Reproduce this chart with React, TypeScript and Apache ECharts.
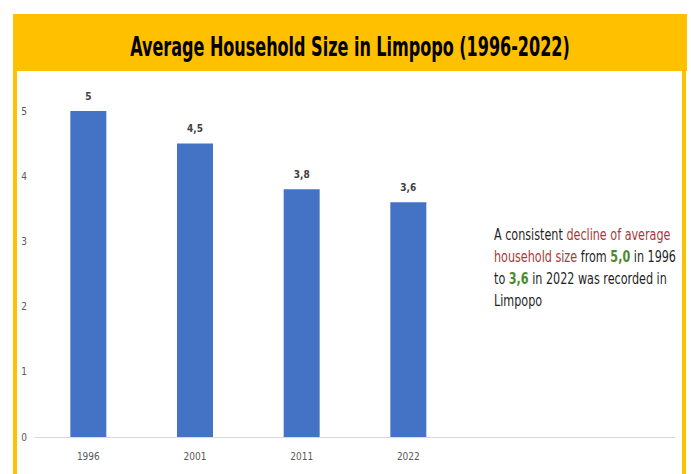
import { useEffect, useRef } from "react";
import * as echarts from "echarts";

const years = ["1996", "2001", "2011", "2022"];
const householdSize = [5, 4.5, 3.8, 3.6];
const emptySlots = ["", ""];
const titleText = "Average Household Size in Limpopo (1996-2022)";
const noteText =
  "A consistent {r|decline of average}\n{r|household size} from {g|5,0} in 1996\nto {g|3,6} in 2022 was recorded in\nLimpopo";

const NARROW = '"DejaVu Sans Condensed", "Liberation Sans Narrow", sans-serif';

export default function App() {
  const ref = useRef<HTMLDivElement>(null);
  useEffect(() => {
    if (!ref.current) return;
    const chart = echarts.init(ref.current, undefined, { renderer: "svg" });
    chart.setOption({
      animation: false,
      backgroundColor: "#ffffff",
      grid: { left: 35, right: 16, top: 111, bottom: 37, containLabel: false },
      xAxis: {
        type: "category",
        data: [...years, ...emptySlots],
        boundaryGap: true,
        axisLine: { show: true, lineStyle: { color: "#d9d9d9", width: 1 } },
        axisTick: { show: false },
        axisLabel: { color: "#595959", fontSize: 10, margin: 14, fontFamily: NARROW },
        splitLine: { show: false },
      },
      yAxis: {
        type: "value",
        min: 0,
        max: 5,
        interval: 1,
        axisLine: { show: false },
        axisTick: { show: false },
        splitLine: { show: false },
        axisLabel: { color: "#595959", fontSize: 10, margin: 8, fontFamily: NARROW },
      },
      series: [
        {
          type: "bar",
          data: householdSize,
          barWidth: 36,
          itemStyle: { color: "#4472C4" },
          label: {
            show: true,
            position: "top",
            distance: 10,
            color: "#404040",
            fontSize: 10,
            fontWeight: "bold",
            fontFamily: NARROW,
            formatter: (p: any) => String(p.value).replace(".", ","),
          },
        },
      ],
      graphic: [
        {
          type: "rect",
          z: 100,
          silent: true,
          shape: { x: 15, y: 16, width: 669, height: 480 },
          style: { fill: "none", stroke: "#FFC000", lineWidth: 4 },
        },
        {
          type: "rect",
          z: 101,
          silent: true,
          shape: { x: 13, y: 14, width: 674, height: 57 },
          style: { fill: "#FFC000" },
        },
        {
          type: "text",
          z: 102,
          x: 350,
          y: 47,
          scaleX: 0.66,
          style: {
            text: titleText,
            fill: "#000000",
            font: `bold 27px ${NARROW}`,
            align: "center",
            verticalAlign: "middle",
          },
        },
        {
          type: "text",
          z: 102,
          x: 494,
          y: 224,
          scaleX: 0.83,
          style: {
            text: noteText,
            fill: "#1f1f1f",
            font: `15px ${NARROW}`,
            lineHeight: 22,
            align: "left",
            verticalAlign: "top",
            rich: {
              r: { fill: "#A63A3A", font: `15px ${NARROW}`, lineHeight: 22 },
              g: { fill: "#4E8A2E", font: `bold 15px ${NARROW}`, lineHeight: 22 },
            },
          },
        },
      ],
    });
    return () => chart.dispose();
  }, []);
  return (
    <div
      ref={ref}
      style={{ position: "absolute", left: 0, top: 0, width: 691, height: 474 }}
    />
  );
}
